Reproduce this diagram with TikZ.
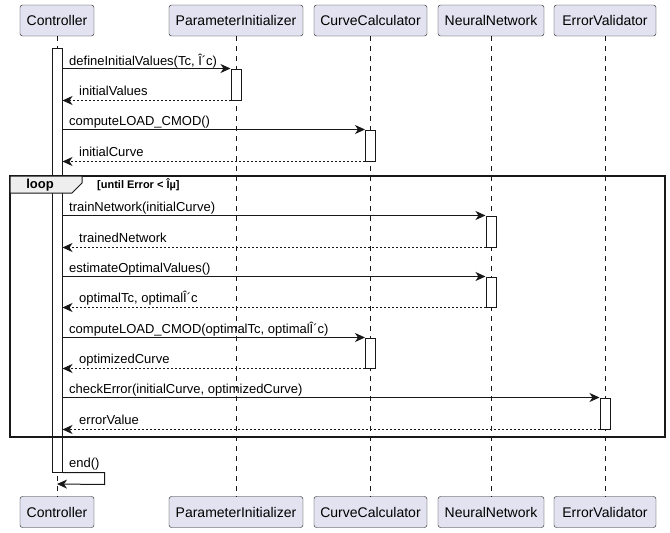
\documentclass[tikz,border=0pt]{standalone}
\usepackage{fontspec}
\setmainfont{Liberation Sans}
\usetikzlibrary{arrows.meta}
\definecolor{partfill}{HTML}{E2E2F0}
\definecolor{lineclr}{HTML}{181818}
\definecolor{tabfill}{HTML}{EEEEEE}
\tikzset{
  part/.style={draw=lineclr,fill=partfill,rounded corners=2.5pt,minimum height=31pt,inner sep=0pt,font=\fontsize{14}{16}\selectfont},
  life/.style={draw=lineclr,dash pattern=on 5pt off 5pt,line width=0.5pt},
  actbar/.style={draw=lineclr,fill=white,minimum width=10pt,inner sep=0pt,line width=1pt},
  msg/.style={draw=lineclr,line width=1pt,-{Stealth[length=10pt,width=9pt,inset=3pt]}},
  ret/.style={msg,dash pattern=on 2pt off 2pt},
  lbl/.style={anchor=base west,inner sep=0pt,font=\fontsize{13}{15}\selectfont}
}

\begin{document}
\begin{tikzpicture}[x=1pt,y=-1pt]
		\useasboundingbox (0,0) rectangle (670,533);

		\node[part,minimum width=74pt]  (ctrl)  at (57,20.5)  {Controller};
		\node[part,minimum width=134pt] (pinit) at (236,20.5) {ParameterInitializer};
		\node[part,minimum width=113pt] (curve) at (370.5,20.5) {CurveCalculator};
		\node[part,minimum width=106pt] (neur)  at (491,20.5) {NeuralNetwork};
		\node[part,minimum width=102pt] (errv)  at (605,20.5) {ErrorValidator};

		\node[part,minimum width=74pt]  (ctrlB)  at (57,512)  {Controller};
		\node[part,minimum width=134pt] (pinitB) at (236,512) {ParameterInitializer};
		\node[part,minimum width=113pt] (curveB) at (370.5,512) {CurveCalculator};
		\node[part,minimum width=106pt] (neurB)  at (491,512) {NeuralNetwork};
		\node[part,minimum width=102pt] (errvB)  at (605,512) {ErrorValidator};

		\draw[life] (ctrl.south)  -- (ctrlB.north);
		\draw[life] (pinit.south) -- (pinitB.north);
		\draw[life] (curve.south) -- (curveB.north);
		\draw[life] (neur.south)  -- (neurB.north);
		\draw[life] (errv.south)  -- (errvB.north);

		\node[actbar,minimum height=424pt] (cbar) at (57,260) {};
		\node[actbar,minimum height=31pt] (pa1) at (236,84.5) {};
		\node[actbar,minimum height=31pt] (ca1) at (370.5,145.5) {};
		\node[actbar,minimum height=31pt] (na1) at (491,231.5) {};
		\node[actbar,minimum height=30pt] (na2) at (491,292) {};
		\node[actbar,minimum height=30pt] (ca2) at (370.5,353) {};
		\node[actbar,minimum height=31pt] (ea1) at (605,413.5) {};

		\draw[draw=lineclr,line width=1.5pt] (10,176) rectangle (665,437);
		\draw[draw=lineclr,fill=tabfill,line width=1pt] (10,176) -- (82,176) -- (82,183) -- (72,193) -- (10,193) -- cycle;
		\node[font=\fontsize{13}{15}\selectfont\bfseries] (looplbl) at (40,185) {loop};
		\node[lbl,font=\fontsize{11}{13}\selectfont\bfseries] (guard) at (97,188.5) {[until Error < Îµ]};

		\draw[msg] (cbar.east |- pa1.north) -- (pa1.north west);
		\node[lbl] (m1) at (69,65) {defineInitialValues(Tc, Î´c)};
		\draw[ret] (pa1.south west) -- (cbar.east |- pa1.south);
		\node[lbl] (m2) at (79,95) {initialValues};

		\draw[msg] (cbar.east |- ca1.north) -- (ca1.north west);
		\node[lbl] (m3) at (69,125.5) {computeLOAD\_CMOD()};
		\draw[ret] (ca1.south west) -- (cbar.east |- ca1.south);
		\node[lbl] (m4) at (79,156) {initialCurve};

		\draw[msg] (cbar.east |- na1.north) -- (na1.north west);
		\node[lbl] (m5) at (69,211.5) {trainNetwork(initialCurve)};
		\draw[ret] (na1.south west) -- (cbar.east |- na1.south);
		\node[lbl] (m6) at (79,242) {trainedNetwork};

		\draw[msg] (cbar.east |- na2.north) -- (na2.north west);
		\node[lbl] (m7) at (69,272) {estimateOptimalValues()};
		\draw[ret] (na2.south west) -- (cbar.east |- na2.south);
		\node[lbl] (m8) at (79,302.5) {optimalTc, optimalÎ´c};

		\draw[msg] (cbar.east |- ca2.north) -- (ca2.north west);
		\node[lbl] (m9) at (69,333) {computeLOAD\_CMOD(optimalTc, optimalÎ´c)};
		\draw[ret] (ca2.south west) -- (cbar.east |- ca2.south);
		\node[lbl] (m10) at (79,363.5) {optimizedCurve};

		\draw[msg] (cbar.east |- ea1.north) -- (ea1.north west);
		\node[lbl] (m11) at (69,393.5) {checkError(initialCurve, optimizedCurve)};
		\draw[ret] (ea1.south west) -- (cbar.east |- ea1.south);
		\node[lbl] (m12) at (79,424) {errorValue};

		\draw[msg] (cbar.south east) -- ++(42,0) -- ++(0,12) -- (ctrl |- 0,484);
		\node[lbl] (m13) at (69,467) {end()};
	\end{tikzpicture}
\end{document}
